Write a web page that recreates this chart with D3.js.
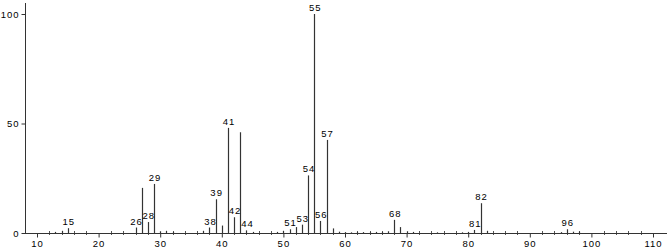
<!DOCTYPE html>
<html>
<head>
<meta charset="utf-8">
<script src="https://cdn.jsdelivr.net/npm/d3@7"></script>
<style>
  body { margin: 0; background: #fff; }
  text { font-family: "Liberation Sans", Arial, sans-serif; font-size: 9.5px; fill: #000; }
</style>
</head>
<body>
<div id="spectrum"></div>
<script>
// m/z values and relative intensities (%)
var mz = [13, 14, 15, 26, 27, 28, 29, 30, 31, 32, 37, 38, 39, 40, 41, 42, 43, 44, 45,
          49, 50, 51, 52, 53, 54, 55, 56, 57, 58, 59, 60, 61, 62, 63, 64, 65, 66, 67,
          68, 69, 70, 71, 75, 79, 80, 81, 82, 83, 95, 96, 97, 98];
var intensity = [0.5, 1.0, 2.2, 2.5, 20.6, 5.0, 22.4, 0.8, 1.0, 0.5, 1.0, 2.5, 15.4, 3.4, 48.0, 7.2, 46.0, 1.2, 0.5,
                 0.5, 1.0, 1.7, 2.7, 3.8, 26.3, 100, 5.5, 42.5, 2.1, 0.6, 0.4, 0.3, 0.4, 0.4, 0.3, 0.5, 0.4, 0.8,
                 6.0, 2.7, 0.8, 0.5, 0.3, 0.3, 0.5, 1.4, 13.6, 1.0, 0.4, 1.7, 0.6, 0.6];
// peaks that carry a label
var labeled = [15, 26, 28, 29, 38, 39, 41, 42, 44, 51, 53, 54, 55, 56, 57, 68, 81, 82, 96];
var xTicks = [10, 20, 30, 40, 50, 60, 70, 80, 90, 100, 110];
var yTicks = [0, 50, 100];

var w = 667;
var h = 249;

var peaks = mz.map(function(m, i) {
  return { mz: m, value: intensity[i] };
});

var xScale = d3.scaleLinear()
               .domain([10, 110])
               .range([37, 653]);

var yScale = d3.scaleLinear()
               .domain([0, 100])
               .range([233, 14]);

var svg = d3.select("#spectrum")
            .append("svg")
            .attr("width", w)
            .attr("height", h);

// minor ticks every 2 units, crossing the baseline
svg.selectAll("line.minor")
   .data(d3.range(10, 112, 2).filter(function(d) { return d % 10 != 0; }))
   .enter()
   .append("line")
   .attr("class", "minor")
   .attr("x1", function(d) { return Math.round(xScale(d)) + 0.5; })
   .attr("x2", function(d) { return Math.round(xScale(d)) + 0.5; })
   .attr("y1", yScale(0) - 2)
   .attr("y2", yScale(0) + 2)
   .attr("stroke", "#555")
   .attr("stroke-width", 1);

var xAxis = d3.axisBottom(xScale)
              .tickValues(xTicks)
              .tickSize(4)
              .tickPadding(3)
              .tickFormat(d3.format("d"));

var gx = svg.append("g")
   .attr("transform", "translate(0," + (yScale(0) + 0.5) + ")")
   .call(xAxis);
gx.select(".domain").remove();
gx.selectAll("line").attr("stroke", "#333");
gx.selectAll("text").attr("font-size", "9.5px").attr("letter-spacing", "1px");

svg.append("line")
   .attr("x1", 25)
   .attr("x2", w)
   .attr("y1", yScale(0) + 0.5)
   .attr("y2", yScale(0) + 0.5)
   .attr("stroke", "#333");

var yAxis = d3.axisLeft(yScale)
              .tickValues(yTicks)
              .tickSize(4)
              .tickPadding(2);

var gy = svg.append("g")
   .attr("transform", "translate(25.5,0)")
   .call(yAxis);
gy.select(".domain").remove();
gy.selectAll("line").attr("stroke", "#333");
gy.selectAll("text").attr("font-size", "9.5px").attr("letter-spacing", "1px");

svg.append("line")
   .attr("x1", 25.5)
   .attr("x2", 25.5)
   .attr("y1", 3)
   .attr("y2", yScale(0) + 0.5)
   .attr("stroke", "#333");

// sticks
svg.selectAll("line.peak")
   .data(peaks)
   .enter()
   .append("line")
   .attr("class", "peak")
   .attr("x1", function(d) { return Math.round(xScale(d.mz)) + 0.5; })
   .attr("x2", function(d) { return Math.round(xScale(d.mz)) + 0.5; })
   .attr("y1", yScale(0))
   .attr("y2", function(d) { return yScale(d.value); })
   .attr("stroke", "#333")
   .attr("stroke-width", 1.2);

// peak labels
svg.selectAll("text.peak-label")
   .data(peaks.filter(function(d) { return labeled.indexOf(d.mz) >= 0; }))
   .enter()
   .append("text")
   .attr("class", "peak-label")
   .attr("x", function(d) { return xScale(d.mz) + 1; })
   .attr("y", function(d) { return yScale(d.value) - 3; })
   .attr("text-anchor", "middle")
   .attr("letter-spacing", "1px")
   .text(function(d) { return d.mz; });
</script>
</body>
</html>
